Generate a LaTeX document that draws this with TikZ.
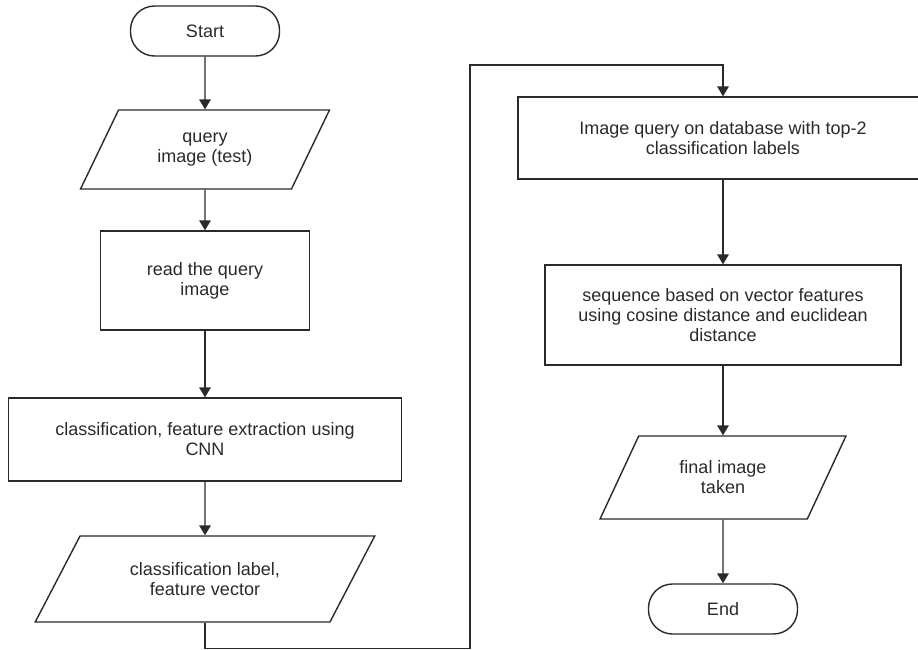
\documentclass[tikz,border=0pt]{standalone}
\usepackage{fontspec}
\setmainfont{Liberation Sans}
\usetikzlibrary{shapes.geometric}
\definecolor{ink}{HTML}{2A2A2A}
\newcommand{\downtip}[1]{\path[fill=ink] (#1) -- ++(-6pt,10pt) -- ++(12pt,0pt) -- cycle;}
\begin{document}
\begin{tikzpicture}[x=1pt,y=1pt,line width=1.4pt,color=ink,
font=\fontsize{18}{20}\selectfont,
term/.style={draw,rectangle,rounded corners=24pt,minimum width=149pt,minimum height=50pt},
proc/.style={draw,rectangle,align=center,inner sep=0pt},
io/.style={draw,trapezium,trapezium left angle=#1,trapezium right angle=180-#1,
  trapezium stretches=true,align=center,inner sep=0pt},
arr/.style={line width=1.2pt,shorten >=9pt}]
\useasboundingbox (0,0) rectangle (918,-650);
\node[term] (start) at (205,-31) {Start};
\node[io=58,minimum width=249pt,minimum height=79pt] (query) at (205,-149.5) {query\\image (test)};
\node[proc,minimum width=209pt,minimum height=99pt] (readimg) at (205,-280.5) {read the query\\image};
\node[proc,minimum width=393pt,minimum height=83pt] (cnn) at (205,-439.5) {classification, feature extraction using\\CNN};
\node[io=51,minimum width=340pt,minimum height=86pt] (labelvec) at (205,-579) {classification label,\\feature vector};
\node[proc,minimum width=410pt,minimum height=82pt] (dbquery) at (723,-138) {Image query on database with top-2\\classification labels};
\node[proc,minimum width=356pt,minimum height=100pt] (seq) at (723,-315) {sequence based on vector features\\using cosine distance and euclidean\\distance};
\node[io=59,minimum width=246pt,minimum height=83pt] (final) at (723,-477.5) {final image\\taken};
\node[term] (stop) at (723,-609) {End};
\coordinate (turn) at (470,-65);
\draw[arr] (start) -- (query.north);
\draw[arr] (query) -- (readimg.north);
\draw[arr] (readimg) -- (cnn.north);
\draw[arr] (cnn) -- (labelvec.north);
\draw[arr] (labelvec.south) -- ++(0,-26) -| (turn) -| (dbquery.north);
\draw[arr] (dbquery) -- (seq.north);
\draw[arr] (seq) -- (final.north);
\draw[arr] (final) -- (stop.north);
\downtip{query.north}
\downtip{readimg.north}
\downtip{cnn.north}
\downtip{labelvec.north}
\downtip{dbquery.north}
\downtip{seq.north}
\downtip{final.north}
\downtip{stop.north}
\end{tikzpicture}
\end{document}
